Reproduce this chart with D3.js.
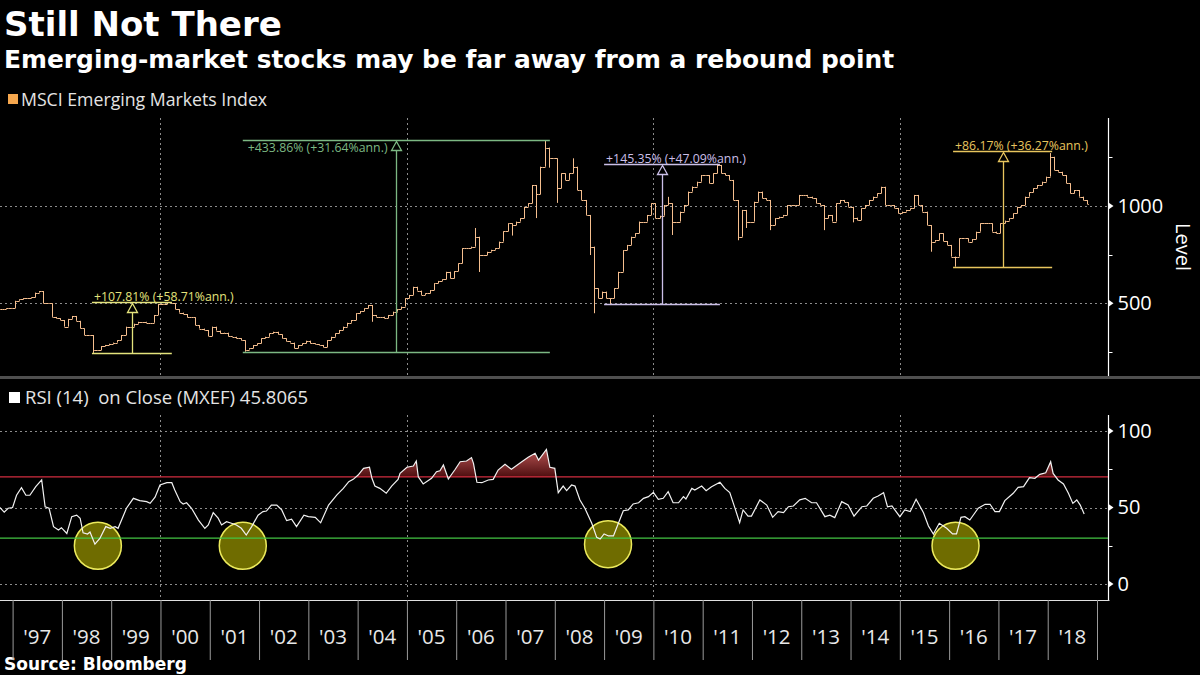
<!DOCTYPE html>
<html><head><meta charset="utf-8">
<script src="https://cdn.jsdelivr.net/npm/d3@7"></script>
<style>html,body{margin:0;padding:0;background:#000;} svg{display:block}</style>
</head><body><svg id="c" width="1200" height="675"></svg>
<script>
// ---------------- DATA ----------------
const titleText = "Still Not There";
const subtitleText = "Emerging-market stocks may be far away from a rebound point";
const sourceText = "Source: Bloomberg";
const priceLegend = "MSCI Emerging Markets Index";
const rsiLegend = "RSI (14)  on Close (MXEF) 45.8065";

// Monthly closes of MSCI EM index, starting 1996-10
const priceStartYear = 1996, priceStartMonth = 10;
const priceClose = [
  470, 474, 476,
  513, 520, 526, 526, 530, 555, 563, 500, 500, 430, 423, 414,
  380, 420, 435, 410, 371, 337, 337, 260, 260, 280, 286, 292,
  298, 310, 337, 380, 380, 395, 405, 405, 400, 400, 440, 496,
  496, 505, 500, 470, 452, 445, 428, 428, 388, 370, 363, 332,
  380, 360, 345, 349, 330, 328, 320, 310, 262, 269, 285, 294,
  320, 328, 345, 354, 340, 320, 305, 298, 269, 285, 294, 308,
  294, 290, 286, 275, 311, 328, 345, 363, 380, 400, 414, 449,
  460, 474, 491, 440, 431, 431, 423, 440, 457, 470, 483, 526,
  543, 585, 565, 543, 551, 568, 603, 615, 623, 662, 628, 665,
  705, 783, 783, 791, 842, 748, 748, 765, 775, 783, 817, 870,
  911, 902, 920, 937, 996, 1014, 1108, 1060, 1202, 1300, 1245, 1245,
  1091, 1168, 1134, 1168, 1202, 1082, 1031, 954, 791, 577, 526, 560,
  526, 526, 577, 662, 773, 800, 842, 860, 920, 920, 954, 1014,
  937, 950, 1005, 1014, 920, 920, 971, 1005, 1074, 1100, 1125, 1159,
  1159, 1117, 1168, 1211, 1168, 1159, 1134, 1031, 842, 980, 920, 920,
  1022, 1074, 1040, 1031, 902, 937, 945, 954, 1005, 1005, 1005, 1057,
  1057, 1048, 1040, 1014, 1005, 937, 954, 920, 1014, 1031, 1020, 996,
  940, 928, 988, 1005, 1031, 1048, 1065, 1099, 1005, 1005, 990, 962,
  971, 980, 988, 1057, 1005, 971, 902, 816, 825, 860, 820, 800,
  740, 740, 834, 834, 816, 830, 868, 911, 911, 911, 868, 860,
  911, 925, 937, 962, 996, 1005, 1048, 1070, 1091, 1108, 1125, 1151,
  1253, 1185, 1176, 1159, 1117, 1065, 1082, 1048, 1030, 1010
];
// Intra-month extremes visible as spikes: [month, high, low]
const priceWicks = [
  ["1998-08", null, 245], ["2001-09", null, 251], ["2004-04", null, 405],
  ["2006-05", 887, null], ["2006-06", null, 661], ["2007-02", null, 848],
  ["2007-08", null, 938], ["2007-10", 1339, null], ["2007-11", null, 1197],
  ["2008-01", null, 1016], ["2008-05", 1245, null], ["2008-09", null, 748],
  ["2008-10", null, 449], ["2009-02", null, 491], ["2010-04", 1047, null],
  ["2010-05", null, 851], ["2011-04", 1217, null], ["2011-09", null, 824],
  ["2011-11", null, 887], ["2012-05", null, 876], ["2013-06", null, 876],
  ["2014-01", null, 916], ["2015-08", null, 765], ["2016-02", null, 688],
  ["2018-01", 1272, null]
];

// RSI(14) readings (decimal year, value)
const rsiDates = [
  1996.74,1996.83,1996.91,1997.00,1997.08,1997.18,1997.27,1997.35,1997.47,1997.59,1997.66,1997.74,1997.83,1997.93,1997.99,
  1998.10,1998.20,1998.30,1998.37,1998.43,1998.52,1998.57,1998.67,1998.77,1998.89,1998.98,
  1999.08,1999.14,1999.31,1999.45,1999.58,1999.72,1999.79,1999.89,1999.99,
  2000.13,2000.23,2000.29,2000.40,2000.46,2000.53,2000.63,2000.77,2000.90,2000.97,
  2001.07,2001.17,2001.24,2001.34,2001.44,2001.54,2001.64,2001.74,2001.85,2001.98,
  2002.08,2002.15,2002.25,2002.36,2002.46,2002.56,2002.66,2002.76,2002.91,
  2003.00,2003.14,2003.25,2003.41,2003.58,2003.71,2003.82,2003.91,
  2004.01,2004.12,2004.24,2004.29,2004.35,2004.45,2004.58,2004.69,2004.82,2004.86,
  2005.00,2005.13,2005.19,2005.23,2005.33,2005.50,2005.60,2005.67,2005.74,2005.84,2005.98,
  2006.08,2006.21,2006.31,2006.35,2006.42,2006.52,2006.65,2006.75,2006.85,2006.99,
  2007.12,2007.33,2007.46,2007.60,2007.67,2007.83,2007.90,
  2008.00,2008.07,2008.17,2008.24,2008.34,2008.41,2008.51,2008.61,2008.75,2008.85,2008.92,
  2009.00,2009.09,2009.19,2009.29,2009.39,2009.49,2009.59,2009.70,2009.80,2009.90,
  2010.00,2010.10,2010.20,2010.30,2010.40,2010.51,2010.61,2010.66,2010.78,2010.84,2010.98,
  2011.07,2011.18,2011.35,2011.45,2011.55,2011.65,2011.75,2011.82,2011.92,2011.99,
  2012.16,2012.30,2012.42,2012.53,2012.64,2012.74,2012.84,2012.97,
  2013.08,2013.21,2013.31,2013.48,2013.58,2013.68,2013.82,2013.95,
  2014.07,2014.23,2014.33,2014.46,2014.56,2014.67,2014.75,2014.84,
  2015.00,2015.10,2015.21,2015.33,2015.48,2015.58,2015.68,2015.80,2015.95,
  2016.07,2016.15,2016.24,2016.32,2016.42,2016.59,2016.73,2016.83,2016.93,
  2017.02,2017.13,2017.30,2017.40,2017.51,2017.63,2017.74,2017.84,2017.96,
  2018.06,2018.11,2018.21,2018.32,2018.42,2018.51,2018.59,2018.66,2018.74
];
const rsiValues = [
  50,47,49.5,50,58,63,58,58,63.6,68,50.5,49.5,37.5,35.3,36.8,
  33,44,45,43,33.5,32.7,34,26,29.8,37.5,36.4,
  37.5,36.4,49.5,56,54.5,53.8,52.7,56.7,64.7,
  66.2,66.2,61.4,53.8,52.3,53.1,49.5,41.8,36.4,38.6,
  46.6,43,38.6,40.7,39.7,38.6,36.4,32,37.5,45,
  47.3,47.7,51.6,51.6,48.4,41.4,42.3,37.5,45,
  44,43.6,40,51.6,58.2,62.5,66.9,68.4,
  71.2,75.6,76.3,69.1,64,62.5,59.3,64,68.4,72.3,
  76.3,77.1,80.4,70.1,65.4,69.1,73.4,74,77.8,68.6,75,
  79.9,80.4,82.6,78.9,66.5,66.2,68,68.4,74.5,78.2,
  75,79.9,82.8,85.4,81,88,76.3,
  75.6,59.7,64,61,64.7,64,54.9,49.5,39.7,30.5,29.4,
  32.7,31.4,31.4,39.7,47.9,48.4,52.3,53.1,56,57.1,
  59.9,55.4,56,60.3,53.1,53.1,57.1,55.6,62.5,61.4,64,
  61,63.6,66.5,62.5,59.7,50.1,40.1,48.4,44.4,44.4,
  54.9,51.6,43.6,47.3,46.6,50.5,51,55,
  56,53.1,53.1,44,45,43.4,53.8,51.6,
  44.4,50.5,51,56,57.5,59.7,50.5,51,
  44,48.4,47.3,55.4,46.6,37.9,32.7,39.7,36.4,
  32.7,32.7,43.6,44,41.8,49.5,52.1,52.1,47.3,
  47.3,54.5,59.3,63.2,63.6,69.5,69.1,71.7,72.7,
  79.9,72.3,68,65.4,59.3,52.7,54.9,51.6,45.8
];
// Highlighted oversold zones (decimal year, RSI value at centre)
const circleDates = [1998.73, 2001.67, 2009.08, 2016.13];
const circleValues = [25, 25, 26, 25];

// Performance annotations
const annStart = [1998.61, 2001.67, 2009.00, 2016.08];
const annEnd   = [2000.23, 2007.90, 2011.35, 2018.09];
const annLow   = [243, 251, 496, 688];
const annHigh  = [505, 1339, 1217, 1281];
const annLabel = ["+107.81% (+58.71%ann.)", "+433.86% (+31.64%ann.)", "+145.35% (+47.09%ann.)", "+86.17% (+36.27%ann.)"];
const annColor = ["#e4e37c", "#7cb883", "#cbbfe8", "#e8c55e"];
const annLabelPos = ["above", "below", "above", "above"];

const yearLabels = ["'97","'98","'99","'00","'01","'02","'03","'04","'05","'06","'07","'08","'09","'10","'11","'12","'13","'14","'15","'16","'17","'18"];
const firstYear = 1997;
const gridYears = [2000, 2005, 2010, 2015];
const priceTicks = [500, 1000];
const priceMinorTicks = [250, 750, 1250];
const rsiTicks = [0, 50, 100];
const rsiMinorTicks = [25, 75];
const rsiOverbought = 70, rsiOversold = 30;

// ---------------- LAYOUT ----------------
const W = 1200, H = 675;
const SANS = "'Open Sans','Noto Sans',sans-serif";
const BOLD = "'DejaVu Sans',sans-serif";
const plotRight = 1108.5;
const pTop = 118, pBot = 376;
const rTop = 415, rBot = 600;

const svg = d3.select("#c");
svg.append("rect").attr("width", W).attr("height", H).attr("fill", "#000");

const x = d3.scaleLinear().domain([1997, 2019]).range([12.6, 1097]);
const yP = d3.scaleLinear().domain([500, 1000]).range([303.3, 206]);
const yR = d3.scaleLinear().domain([0, 100]).range([584, 431]);

const defs = svg.append("defs");
defs.append("clipPath").attr("id", "pclip").append("rect")
  .attr("x", 0).attr("y", pTop).attr("width", plotRight).attr("height", pBot - pTop);
defs.append("clipPath").attr("id", "overclip").append("rect")
  .attr("x", 0).attr("y", rTop).attr("width", plotRight).attr("height", yR(rsiOverbought) - rTop);
const grad = defs.append("linearGradient").attr("id", "redgrad")
  .attr("gradientUnits", "userSpaceOnUse").attr("x1", 0).attr("x2", 0)
  .attr("y1", yR(90)).attr("y2", yR(rsiOverbought));
grad.append("stop").attr("offset", 0).attr("stop-color", "#c25a5a");
grad.append("stop").attr("offset", 1).attr("stop-color", "#4e0f10");

// ---------------- TITLES ----------------
svg.append("text").attr("x", 4).attr("y", 36).text(titleText)
  .attr("font-family", BOLD).attr("font-weight", "bold").attr("font-size", 34).attr("fill", "#fff");
svg.append("text").attr("x", 4).attr("y", 68).text(subtitleText)
  .attr("font-family", BOLD).attr("font-weight", "bold").attr("font-size", 24.9).attr("fill", "#fff");
svg.append("text").attr("x", 4).attr("y", 670).text(sourceText)
  .attr("font-family", BOLD).attr("font-weight", "bold").attr("font-size", 17).attr("fill", "#fff");

// Legends
svg.append("rect").attr("x", 8).attr("y", 94).attr("width", 10).attr("height", 10).attr("fill", "#f6a74e");
svg.append("text").attr("x", 21).attr("y", 106).text(priceLegend)
  .attr("font-family", SANS).attr("font-size", 17.7).attr("fill", "#e4e4e4");
svg.append("rect").attr("x", 9).attr("y", 392).attr("width", 11).attr("height", 11).attr("fill", "#fff");
svg.append("text").attr("x", 25).attr("y", 404).text(rsiLegend).style("white-space", "pre")
  .attr("font-family", SANS).attr("font-size", 18.5).attr("fill", "#e4e4e4");

// ---------------- GRIDLINES ----------------
const dotted = sel => sel.attr("stroke", "#8c8c8c").attr("stroke-width", 1).attr("stroke-dasharray", "2,3");
const grid = svg.append("g");
grid.selectAll(".pv").data(gridYears).join("line")
  .attr("x1", d => Math.round(x(d)) + 0.5).attr("x2", d => Math.round(x(d)) + 0.5)
  .attr("y1", pTop).attr("y2", pBot).call(dotted);
grid.selectAll(".ph").data(priceTicks).join("line")
  .attr("x1", 0).attr("x2", plotRight)
  .attr("y1", d => Math.round(yP(d)) + 0.5).attr("y2", d => Math.round(yP(d)) + 0.5).call(dotted);
grid.selectAll(".rv").data(gridYears).join("line")
  .attr("x1", d => Math.round(x(d)) + 0.5).attr("x2", d => Math.round(x(d)) + 0.5)
  .attr("y1", rTop).attr("y2", rBot).call(dotted);
grid.selectAll(".rh").data(rsiTicks).join("line")
  .attr("x1", 0).attr("x2", plotRight)
  .attr("y1", d => Math.round(yR(d)) + 0.5).attr("y2", d => Math.round(yR(d)) + 0.5).call(dotted);

// ---------------- PRICE BARS ----------------
const wickMap = new Map(priceWicks.map(d => [d[0], [d[1], d[2]]]));
const bars = priceClose.map((c, i) => {
  const m = (priceStartMonth - 1) + i;
  const yr = priceStartYear + Math.floor(m / 12), mo = m % 12;
  const key = yr + "-" + String(mo + 1).padStart(2, "0");
  const open = i > 0 ? priceClose[i - 1] : c;
  const w = wickMap.get(key) || [null, null];
  const hi = Math.max(open, c, w[0] == null ? -Infinity : w[0]);
  const lo = Math.min(open, c, w[1] == null ? Infinity : w[1]);
  return { t0: yr + mo / 12, t1: yr + (mo + 1) / 12, tc: yr + (mo + 0.5) / 12, open, close: c, hi, lo };
});
svg.append("g").attr("clip-path", "url(#pclip)")
  .selectAll("path").data(bars).join("path")
  .attr("d", d => {
    const xc = Math.round(x(d.tc)) + 0.5, x0 = x(d.t0), x1 = x(d.t1);
    return `M${xc},${yP(d.hi)}V${yP(d.lo)}M${x0},${Math.round(yP(d.open)) + 0.5}H${xc}M${xc},${Math.round(yP(d.close)) + 0.5}H${x1}`;
  })
  .attr("fill", "none").attr("stroke", "#f6bf8f").attr("stroke-width", 1);

// ---------------- ANNOTATIONS ----------------
const ann = svg.append("g").attr("clip-path", "url(#pclip)");
annStart.forEach((s, i) => {
  const g = ann.append("g");
  const col = annColor[i];
  const xs = x(s), xe = x(annEnd[i]), xm = Math.round((xs + xe) / 2) + 0.5;
  const yl = Math.round(yP(annLow[i])) + 0.5, yh = Math.round(yP(annHigh[i])) + 0.5;
  g.append("line").attr("x1", xs).attr("x2", xe).attr("y1", yh).attr("y2", yh).attr("stroke", col).attr("stroke-width", 1.3);
  g.append("line").attr("x1", xs).attr("x2", xe).attr("y1", yl).attr("y2", yl).attr("stroke", col).attr("stroke-width", 1.3);
  g.append("line").attr("x1", xm).attr("x2", xm).attr("y1", yl).attr("y2", yh + 10).attr("stroke", col).attr("stroke-width", 1.3);
  g.append("path").attr("d", `M${xm},${yh + 1}L${xm + 5},${yh + 10}L${xm - 5},${yh + 10}Z`)
    .attr("fill", "#000").attr("stroke", col).attr("stroke-width", 1.3);
  g.append("text").attr("x", xs + (annLabelPos[i] === "below" ? 5 : 2))
    .attr("y", annLabelPos[i] === "below" ? yh + 11 : yh - 2)
    .text(annLabel[i]).attr("font-family", SANS).attr("font-size", 12.3).attr("fill", col);
});

// ---------------- RSI ----------------
const rsi = rsiDates.map((d, i) => [d, rsiValues[i]]);
// oversold circles sit beneath the lines
svg.append("g").selectAll("circle").data(circleDates).join("circle")
  .attr("cx", d => x(d)).attr("cy", (d, i) => yR(circleValues[i])).attr("r", 23.5)
  .attr("fill", "#6f6c00")
  .attr("stroke", "#ecea5c").attr("stroke-width", 1.5);
svg.append("path").datum(rsi).attr("clip-path", "url(#overclip)")
  .attr("d", d3.area().x(d => x(d[0])).y0(yR(rsiOverbought)).y1(d => yR(d[1])))
  .attr("fill", "url(#redgrad)");
svg.append("line").attr("x1", 0).attr("x2", plotRight)
  .attr("y1", yR(rsiOverbought)).attr("y2", yR(rsiOverbought))
  .attr("stroke", "#d12d3f").attr("stroke-width", 1.3);
svg.append("line").attr("x1", 0).attr("x2", plotRight)
  .attr("y1", yR(rsiOversold)).attr("y2", yR(rsiOversold))
  .attr("stroke", "#43c443").attr("stroke-width", 1.3);
svg.append("path").datum(rsi)
  .attr("d", d3.line().x(d => x(d[0])).y(d => yR(d[1])))
  .attr("fill", "none").attr("stroke", "#f2f2f2").attr("stroke-width", 1.2);

// ---------------- AXES ----------------
// separator
svg.append("line").attr("x1", 0).attr("x2", W).attr("y1", 377.5).attr("y2", 377.5)
  .attr("stroke", "#4f4f4f").attr("stroke-width", 3);

function rightAxis(scale, majors, minors, top, bot) {
  const g = svg.append("g");
  g.append("line").attr("x1", plotRight).attr("x2", plotRight).attr("y1", top).attr("y2", bot)
    .attr("stroke", "#fff").attr("stroke-width", 1.2);
  const ax = g.append("g").attr("transform", `translate(${plotRight},0)`)
    .call(d3.axisRight(scale).tickValues(majors).tickSize(0).tickPadding(9).tickFormat(d3.format("d")));
  ax.select(".domain").remove();
  ax.selectAll("text").attr("font-family", SANS).attr("font-size", 20).attr("fill", "#fff");
  g.selectAll(".mk").data(majors).join("path")
    .attr("d", d => `M${plotRight},${scale(d) - 3.5}L${plotRight + 5},${scale(d)}L${plotRight},${scale(d) + 3.5}Z`)
    .attr("fill", "#fff");
  g.selectAll(".mn").data(minors).join("line")
    .attr("x1", plotRight).attr("x2", plotRight + 4)
    .attr("y1", d => Math.round(scale(d)) + 0.5).attr("y2", d => Math.round(scale(d)) + 0.5)
    .attr("stroke", "#fff").attr("stroke-width", 1);
}
rightAxis(yP, priceTicks, priceMinorTicks, pTop, pBot);
rightAxis(yR, rsiTicks, rsiMinorTicks, rTop, rBot);

svg.append("text").attr("transform", "translate(1176,247) rotate(90)")
  .attr("text-anchor", "middle").text("Level")
  .attr("font-family", SANS).attr("font-size", 20).attr("fill", "#fff");

// x axis
const yearTicks = d3.range(firstYear, firstYear + yearLabels.length + 1);
svg.append("line").attr("x1", 0).attr("x2", plotRight + 1).attr("y1", 600.5).attr("y2", 600.5)
  .attr("stroke", "#e0e0e0").attr("stroke-width", 1.2);
const xa = svg.append("g").attr("transform", "translate(0,600)")
  .call(d3.axisBottom(x).tickValues(yearTicks).tickSize(60).tickFormat(""));
xa.select(".domain").remove();
xa.selectAll("line").attr("stroke", "#9a9a9a").attr("stroke-width", 1);
svg.append("g").selectAll("text").data(yearLabels).join("text")
  .attr("x", (d, i) => x(firstYear + i + 0.5)).attr("y", 644)
  .attr("text-anchor", "middle").text(d => d)
  .attr("font-family", SANS).attr("font-size", 20.5).attr("fill", "#e8e8e8");
</script></body></html>
